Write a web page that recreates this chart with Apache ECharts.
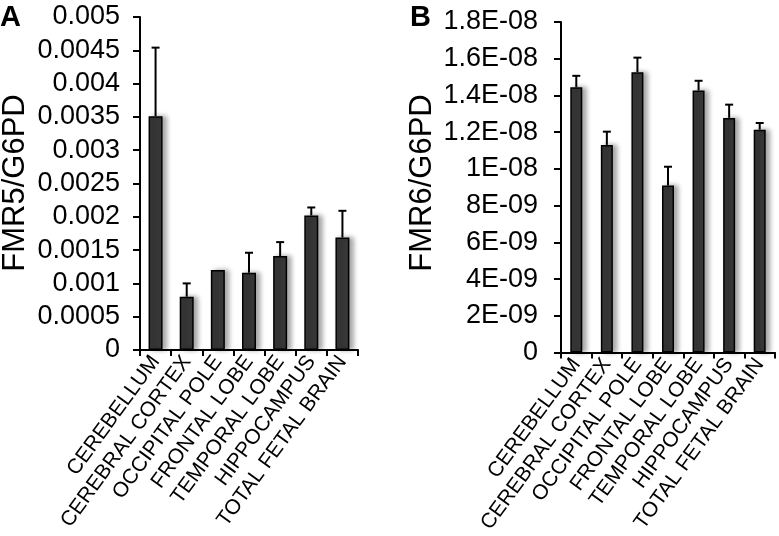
<!DOCTYPE html>
<html>
<head>
<meta charset="utf-8">
<script src="https://cdn.jsdelivr.net/npm/echarts@6/dist/echarts.min.js"></script>
<style>
html,body{margin:0;padding:0;background:#fff;}
#chart{width:779px;height:536px;}
</style>
</head>
<body>
<div id="chart"></div>
<script>
var categories = ['CEREBELLUM','CEREBRAL CORTEX','OCCIPITAL POLE','FRONTAL LOBE','TEMPORAL LOBE','HIPPOCAMPUS','TOTAL FETAL BRAIN'];
var fmr5Values = [0.00351, 0.00080, 0.00120, 0.00116, 0.00141, 0.00202, 0.00169];
var fmr5Errors = [0.00103, 0.00020, 0.00000, 0.00030, 0.00021, 0.00012, 0.00040];
var fmr6Values = [1.445e-8, 1.131e-8, 1.527e-8, 0.910e-8, 1.427e-8, 1.278e-8, 1.214e-8];
var fmr6Errors = [0.062e-8, 0.072e-8, 0.079e-8, 0.102e-8, 0.053e-8, 0.072e-8, 0.036e-8];
var ticksA = ['0','0.0005','0.001','0.0015','0.002','0.0025','0.003','0.0035','0.004','0.0045','0.005'];
var ticksB = ['0','2E-09','4E-09','6E-09','8E-09','1E-08','1.2E-08','1.4E-08','1.6E-08','1.8E-08'];

var FONT = '"Liberation Sans", Arial, sans-serif';
var chart = echarts.init(document.getElementById('chart'));

function errData(vals, errs) {
  return vals.map(function (v, i) { return [i, v, v + errs[i]]; });
}
function errRender(params, api) {
  var x = api.value(0), lo = api.value(1), hi = api.value(2);
  if (hi - lo <= 0) return null;
  var p0 = api.coord([x, lo]);
  var p1 = api.coord([x, hi]);
  var cap = 4;
  return {
    type: 'group',
    children: [
      {type: 'line', shape: {x1: p0[0], y1: p0[1], x2: p1[0], y2: p1[1]}, style: {stroke: '#000', lineWidth: 2}},
      {type: 'line', shape: {x1: p1[0] - cap, y1: p1[1], x2: p1[0] + cap, y2: p1[1]}, style: {stroke: '#000', lineWidth: 2}}
    ]
  };
}
function xAxisCfg(gi) {
  return {
    type: 'category', gridIndex: gi, data: categories,
    axisLine: {lineStyle: {color: '#000', width: 2}},
    axisTick: {show: true, inside: false, length: 6, lineStyle: {color: '#000', width: 2}},
    axisLabel: {interval: 0, rotate: 54, fontSize: 21, color: '#000', fontFamily: FONT, margin: 8}
  };
}
function yAxisCfg(gi, max, interval, ticks, margin) {
  return {
    type: 'value', gridIndex: gi, min: 0, max: max, interval: interval,
    splitLine: {show: false},
    axisLine: {show: true, lineStyle: {color: '#000', width: 2}},
    axisTick: {show: true, inside: false, length: 7, lineStyle: {color: '#000', width: 2}},
    axisLabel: {fontSize: 27, color: '#000', fontFamily: FONT, margin: margin,
      formatter: function (v, idx) { return ticks[Math.round(v / interval)]; }}
  };
}
var barStyle = {color: '#383838', borderColor: '#000', borderWidth: 1.5,
  shadowColor: 'rgba(0,0,0,0.35)', shadowBlur: 5, shadowOffsetX: 4, shadowOffsetY: 0};

chart.setOption({
  animation: false,
  backgroundColor: '#fff',
  grid: [
    {left: 140, right: 421, top: 17, bottom: 186},
    {left: 561, right: 4, top: 22, bottom: 182}
  ],
  xAxis: [xAxisCfg(0), xAxisCfg(1)],
  yAxis: [yAxisCfg(0, 0.005, 0.0005, ticksA, 20), yAxisCfg(1, 1.8e-8, 2e-9, ticksB, 23)],
  series: [
    {type: 'bar', xAxisIndex: 0, yAxisIndex: 0, data: fmr5Values, barWidth: 14, itemStyle: barStyle},
    {type: 'custom', xAxisIndex: 0, yAxisIndex: 0, data: errData(fmr5Values, fmr5Errors), renderItem: errRender, z: 3},
    {type: 'bar', xAxisIndex: 1, yAxisIndex: 1, data: fmr6Values, barWidth: 12, itemStyle: barStyle},
    {type: 'custom', xAxisIndex: 1, yAxisIndex: 1, data: errData(fmr6Values, fmr6Errors), renderItem: errRender, z: 3}
  ],
  graphic: [
    {type: 'text', left: 0, top: 3, style: {text: 'A', font: 'bold 29px ' + FONT, fill: '#000'}},
    {type: 'text', left: 410, top: 3, style: {text: 'B', font: 'bold 29px ' + FONT, fill: '#000'}},
    {type: 'text', x: 15, y: 183, rotation: Math.PI / 2,
      style: {text: 'FMR5/G6PD', font: '31px ' + FONT, fill: '#000', align: 'center', verticalAlign: 'middle'}},
    {type: 'text', x: 422, y: 183, rotation: Math.PI / 2,
      style: {text: 'FMR6/G6PD', font: '31px ' + FONT, fill: '#000', align: 'center', verticalAlign: 'middle'}}
  ]
});
</script>
</body>
</html>
